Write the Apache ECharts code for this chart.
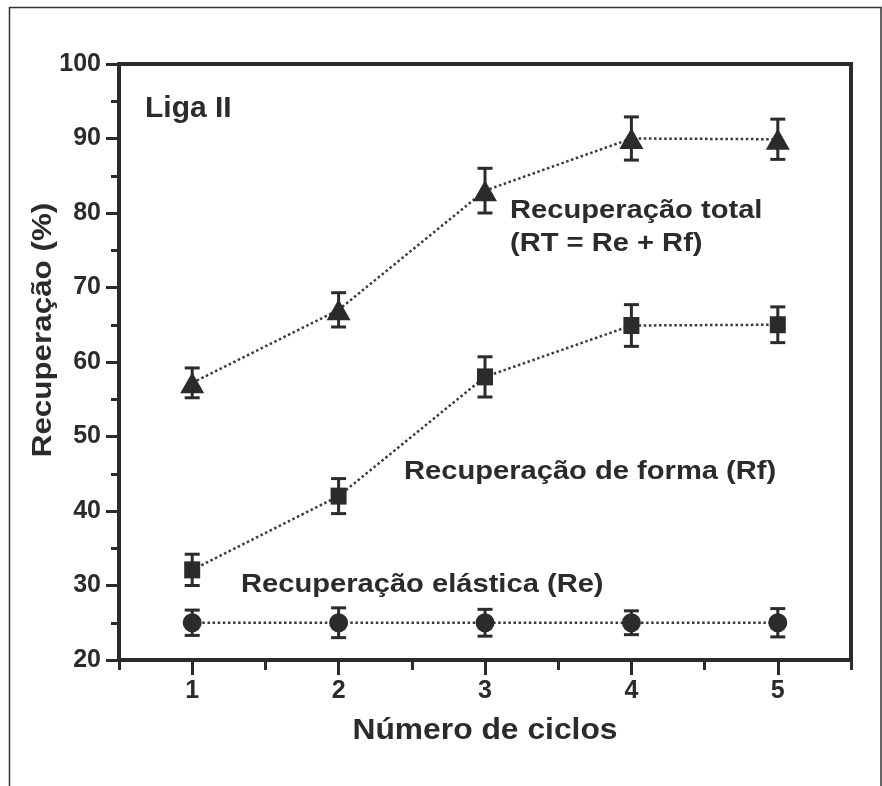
<!DOCTYPE html>
<html>
<head>
<meta charset="utf-8">
<script src="https://cdn.jsdelivr.net/npm/echarts@6/dist/echarts.min.js"></script>
<style>
html,body{margin:0;padding:0;background:#fff;}
#c{width:882px;height:786px;}
</style>
</head>
<body>
<div id="c"></div>
<script>
// ---- data ----
const cycles = [1, 2, 3, 4, 5];
const minorTickValues = [0.5, 1.5, 2.5, 3.5, 4.5, 5.5];
const rtMean = [57.2, 67, 83, 90, 89.9];
const rtErr  = [2.0, 2.3, 3.0, 2.9, 2.7];
const rfMean = [32.1, 42, 58, 64.9, 65];
const rfErr  = [2.1, 2.35, 2.7, 2.8, 2.4];
const reMean = [25, 25, 25, 25, 25];
const reErr  = [1.7, 2.0, 1.8, 1.6, 1.9];
const yTicks = [20, 30, 40, 50, 60, 70, 80, 90, 100];

const INK = '#2b2b2b';
const FONT = "'Liberation Sans', Arial, Helvetica, sans-serif";

function pts(mean) { return cycles.map((c, i) => [c, mean[i]]); }
function errs(mean, err) { return cycles.map((c, i) => [c, mean[i] - err[i], mean[i] + err[i]]); }

function errorBar(params, api) {
  const x = api.value(0), lo = api.value(1), hi = api.value(2);
  const pHi = api.coord([x, hi]), pLo = api.coord([x, lo]);
  const w = 7.5;
  const st = { stroke: INK, lineWidth: 3 };
  return {
    type: 'group',
    children: [
      { type: 'line', shape: { x1: pHi[0], y1: pHi[1], x2: pLo[0], y2: pLo[1] }, style: st },
      { type: 'line', shape: { x1: pHi[0] - w, y1: pHi[1], x2: pHi[0] + w, y2: pHi[1] }, style: st },
      { type: 'line', shape: { x1: pLo[0] - w, y1: pLo[1], x2: pLo[0] + w, y2: pLo[1] }, style: st }
    ]
  };
}

function lineSeries(name, mean, symbol, size) {
  return {
    name, type: 'line', data: pts(mean), symbol, symbolSize: size,
    xAxisIndex: 0, yAxisIndex: 0,
    itemStyle: { color: INK },
    lineStyle: { color: '#3a3a3a', width: 2.5, type: [2.5, 2.6] },
    z: 5, animation: false
  };
}
function errSeries(mean, err) {
  return {
    type: 'custom', renderItem: errorBar, data: errs(mean, err),
    encode: { x: 0, y: [1, 2] }, xAxisIndex: 0, yAxisIndex: 0, z: 4, animation: false
  };
}

const chart = echarts.init(document.getElementById('c'), null, { renderer: 'canvas' });

function txt(text, x, y, size, opts) {
  return Object.assign({
    type: 'text', x, y, z: 100,
    style: {
      text, fill: INK, font: 'bold ' + size + 'px ' + FONT,
      textAlign: 'left', textVerticalAlign: 'middle'
    }
  }, opts || {});
}

chart.setOption({
  backgroundColor: '#fff',
  animation: false,
  grid: {
    left: 119, right: 31, top: 64, bottom: 126,
    show: true, borderColor: INK, borderWidth: 4, containLabel: false
  },
  xAxis: [{
    type: 'value', min: 0.5, max: 5.5, position: 'bottom',
    axisLine: { show: true, onZero: false, lineStyle: { color: INK, width: 4 } },
    axisTick: { show: true, customValues: cycles, length: 15, lineStyle: { color: INK, width: 3 } },
    axisLabel: { customValues: cycles, color: INK, fontSize: 25, fontWeight: 'bold', fontFamily: FONT, margin: 19 },
    splitLine: { show: false }
  }, {
    type: 'value', min: 0.5, max: 5.5, position: 'bottom',
    axisLine: { show: false },
    axisTick: { show: true, customValues: minorTickValues, length: 10, lineStyle: { color: INK, width: 3 } },
    axisLabel: { show: false },
    splitLine: { show: false }
  }],
  yAxis: [{
    type: 'value', min: yTicks[0], max: yTicks[yTicks.length - 1], interval: 10,
    axisLine: { show: true, onZero: false, lineStyle: { color: INK, width: 4 } },
    axisTick: { show: true, length: 13, lineStyle: { color: INK, width: 3 } },
    minorTick: { show: true, splitNumber: 2, length: 8, lineStyle: { color: INK, width: 3 } },
    axisLabel: { color: INK, fontSize: 25, fontWeight: 'bold', fontFamily: FONT, margin: 18 },
    splitLine: { show: false }, minorSplitLine: { show: false }
  }],
  series: [
    errSeries(rtMean, rtErr), lineSeries('RT', rtMean, 'triangle', [24, 21]),
    errSeries(rfMean, rfErr), lineSeries('Rf', rfMean, 'rect', [16, 17]),
    errSeries(reMean, reErr), lineSeries('Re', reMean, 'circle', 19)
  ],
  graphic: [
    { type: 'rect', shape: { x: 9.5, y: 7.5, width: 871.5, height: 820 }, style: { fill: 'none', stroke: '#333', lineWidth: 1.5 }, z: 0 },
    txt('Liga II', 145, 109, 30),
    txt('Recuperação total', 510, 211, 26, { scaleX: 1.12 }),
    txt('(RT = Re + Rf)', 510, 244, 26, { scaleX: 1.12 }),
    txt('Recuperação de forma (Rf)', 404, 472, 26, { scaleX: 1.12 }),
    txt('Recuperação elástica (Re)', 241, 585, 26, { scaleX: 1.12 }),
    {
      type: 'text', x: 485, y: 731, scaleX: 1.06, z: 100,
      style: { text: 'Número de ciclos', fill: INK, font: 'bold 30px ' + FONT, textAlign: 'center', textVerticalAlign: 'middle' }
    },
    {
      type: 'text', x: 43, y: 330, rotation: Math.PI / 2, scaleX: 1.12, z: 100,
      style: { text: 'Recuperação (%)', fill: INK, font: 'bold 28px ' + FONT, textAlign: 'center', textVerticalAlign: 'middle' }
    }
  ]
});
</script>
</body>
</html>
